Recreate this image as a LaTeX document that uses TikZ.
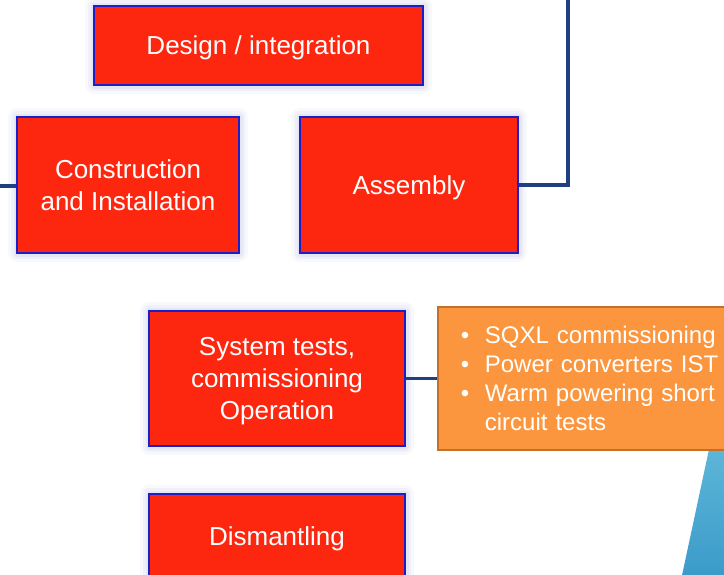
\documentclass[tikz,border=0pt]{standalone}
\usepackage{fontspec}
\setmainfont{Liberation Sans}

\definecolor{boxred}{RGB}{253,39,16}
\definecolor{boxedge}{RGB}{28,30,200}
\definecolor{linkblue}{RGB}{31,63,128}
\definecolor{notefill}{RGB}{252,150,62}
\definecolor{noteedge}{RGB}{196,112,44}
\definecolor{wedgetop}{RGB}{96,184,218}
\definecolor{wedgebot}{RGB}{58,154,200}
\definecolor{glow}{RGB}{200,202,230}

\tikzset{
  % soft halo drawn behind each phase box
  halo/.style={
    preaction={draw=glow, line join=round, line width=18pt, draw opacity=0.12},
    preaction={draw=glow, line join=round, line width=12pt, draw opacity=0.18},
    preaction={draw=glow, line join=round, line width=7pt,  draw opacity=0.25}},
  phase/.style={halo, draw=boxedge, line width=1.8pt, fill=boxred, text=white,
    font=\fontsize{26}{32}\selectfont, align=center, inner sep=0pt, text depth=0pt},
  link/.style={draw=linkblue, line width=3.5pt},
  note/.style={draw=noteedge, line width=1.8pt, fill=notefill, text=white,
    font=\fontsize{24}{29}\selectfont, align=left,
    inner xsep=23pt, inner ysep=0pt, text width=284pt, minimum height=143pt}
}

\begin{document}
\begin{tikzpicture}[x=1pt, y=-1pt]
  % one unit = 1pt; the picture is 724 x 574
  \useasboundingbox (0,0) rectangle (724,574);
  \clip (0,0) rectangle (724,574);

  % background wedge at the lower right
  \shade[top color=wedgetop, bottom color=wedgebot]
    (711,440) -- (740,440) -- (740,580) -- (681,580) -- cycle;

  % lifecycle phases
  \node[phase, minimum width=329pt, minimum height=79pt]  (design)   at (258.5,45.5) {Design / integration};
  \node[phase, minimum width=222pt, minimum height=136pt] (build)    at (128,185)    {Construction\\and Installation};
  \node[phase, minimum width=218pt, minimum height=136pt] (assembly) at (409,185)    {Assembly};
  \node[phase, minimum width=256pt, minimum height=135pt] (tests)    at (277,378.5)  {System tests,\\commissioning\\Operation};
  \node[phase, minimum width=256pt, minimum height=84pt]  (dismant)  at (277,536)    {Dismantling};

  % detail of the test phase
  \node[note, anchor=west] (detail) at (437,378.5)
    {\makebox[24pt][l]{•}SQXL commissioning\\
     \makebox[24pt][l]{•}Power converters IST\\
     \makebox[24pt][l]{•}Warm powering short\\
     \hspace*{24pt}circuit tests};

  % connectors
  \coordinate (topexit) at (568,-5);
  \coordinate (leftentry) at (-5,186);
  \draw[link] (assembly.east) -- (568,185) -- (topexit);
  \draw[link] (leftentry) -- (build.west |- leftentry);
  \draw[link] (tests.east) -- (detail.west);
\end{tikzpicture}
\end{document}
